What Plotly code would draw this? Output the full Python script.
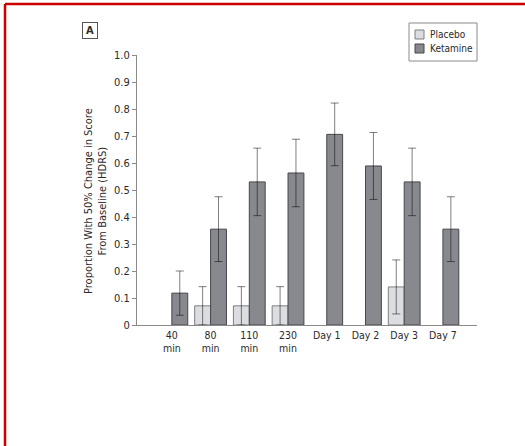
import plotly.graph_objects as go

categories = ["40<br>min", "80<br>min", "110<br>min", "230<br>min", "Day 1", "Day 2", "Day 3", "Day 7"]
placebo = [None, 0.071, 0.071, 0.071, None, None, 0.141, None]
placebo_err = [None, 0.071, 0.071, 0.071, None, None, 0.100, None]
ketamine = [0.118, 0.355, 0.530, 0.563, 0.706, 0.589, 0.530, 0.355]
ketamine_err = [0.082, 0.120, 0.125, 0.125, 0.116, 0.124, 0.125, 0.120]
ytick_vals = [0, 0.1, 0.2, 0.3, 0.4, 0.5, 0.6, 0.7, 0.8, 0.9, 1.0]
ytick_text = ["0", "0.1", "0.2", "0.3", "0.4", "0.5", "0.6", "0.7", "0.8", "0.9", "1.0"]
series_names = ["Placebo", "Ketamine"]
fill_colors = ["#dcdde0", "#87898e"]
edge_colors = ["#7d7f83", "#45474a"]

FONT = "Liberation Sans Narrow, DejaVu Sans Condensed, Arial Narrow, sans-serif"
W, H = 525, 446
L, R, T, B = 137, 48, 55, 121
pw, ph = W - L - R, H - T - B

def px(x):
    return (x - L) / pw

def py(y):
    return (H - B - y) / ph

fig = go.Figure()
for name, vals, errs, fc, ec in zip(series_names, [placebo, ketamine], [placebo_err, ketamine_err],
                                    fill_colors, edge_colors):
    fig.add_trace(go.Bar(
        name=name, x=categories, y=vals, showlegend=False,
        marker=dict(color=fc, line=dict(color=ec, width=1)),
        error_y=dict(type="data", array=errs, color="rgba(0,0,0,0.5)", thickness=1, width=4),
    ))

shapes = [
    dict(type="line", xref="paper", yref="paper",
         x0=px(5), x1=px(W + 2), y0=py(4), y1=py(4),
         line=dict(color="#cc0000", width=2.5)),
    dict(type="line", xref="paper", yref="paper",
         x0=px(5), x1=px(5), y0=py(4), y1=py(H + 2),
         line=dict(color="#cc0000", width=2.5)),
    # legend box
    dict(type="rect", xref="paper", yref="paper",
         x0=px(409), x1=px(477), y0=py(23), y1=py(61),
         line=dict(color="#8a8a8a", width=1), fillcolor="white"),
]
annotations = [
    dict(
        text="Proportion With 50% Change in Score<br>From Baseline (HDRS)",
        xref="paper", yref="paper", x=px(95), y=py(201),
        xanchor="center", yanchor="middle", textangle=-90, showarrow=False,
        font=dict(family=FONT, size=11, color="#2a2a2a"),
    ),
    dict(
        text="<b>A</b>", xref="paper", yref="paper", x=px(90), y=py(30),
        xanchor="center", yanchor="middle", showarrow=False,
        bordercolor="#555", borderwidth=1, borderpad=1, width=12, height=13,
        font=dict(family=FONT, size=11, color="#2a2a2a"),
    ),
]
for i, (name, fc, ec) in enumerate(zip(series_names, fill_colors, edge_colors)):
    yc = 34.5 + 14 * i
    shapes.append(dict(type="rect", xref="paper", yref="paper",
                       x0=px(415), x1=px(424), y0=py(yc - 4.5), y1=py(yc + 4.5),
                       line=dict(color=ec, width=1), fillcolor=fc))
    annotations.append(dict(text=name, xref="paper", yref="paper", x=px(428), y=py(yc),
                            xanchor="left", yanchor="middle", showarrow=False,
                            font=dict(family=FONT, size=10, color="#2a2a2a")))

fig.update_layout(
    width=W, height=H,
    margin=dict(l=L, r=R, t=T, b=B, pad=0),
    paper_bgcolor="white", plot_bgcolor="white",
    barmode="group", bargap=0.18, bargroupgap=0,
    font=dict(family=FONT, size=11, color="#2a2a2a"),
    showlegend=False,
    xaxis=dict(
        type="category", categoryorder="array", categoryarray=categories,
        range=[-0.9, 7.88], showgrid=False, zeroline=False,
        showline=True, linecolor="#8a8a8a", linewidth=1,
        ticks="", tickfont=dict(family=FONT, size=10.5, color="#2a2a2a"),
        fixedrange=True,
    ),
    yaxis=dict(
        range=[0, 1.0], tickvals=ytick_vals, ticktext=ytick_text,
        showgrid=False, zeroline=False,
        showline=True, linecolor="#8a8a8a", linewidth=1,
        ticks="outside", ticklen=4, tickcolor="#8a8a8a",
        tickfont=dict(family=FONT, size=11, color="#2a2a2a"),
        fixedrange=True,
    ),
    annotations=annotations,
    shapes=shapes,
)

fig.write_html("out.html", config={"displayModeBar": False},
               post_script="document.body.style.margin='0';")
